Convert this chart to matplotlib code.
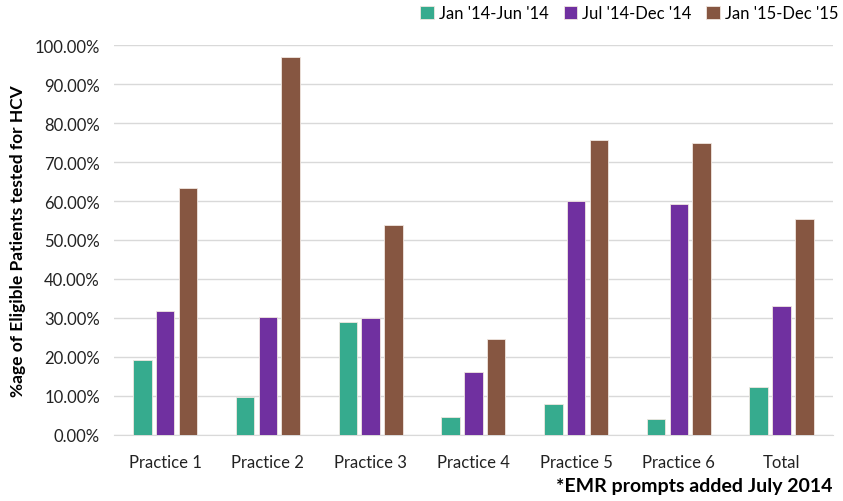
import numpy as np
import matplotlib.pyplot as plt
from matplotlib.ticker import PercentFormatter

plt.rcParams['font.family'] = ['Lato', 'DejaVu Sans']

practices = ["Practice 1", "Practice 2", "Practice 3", "Practice 4",
             "Practice 5", "Practice 6", "Total"]
period_labels = ["Jan '14-Jun '14", "Jul '14-Dec '14", "Jan '15-Dec '15"]
jan_jun_14 = [19.3, 9.6, 29.0, 4.5, 8.0, 4.0, 12.3]
jul_dec_14 = [31.7, 30.3, 30.0, 16.0, 60.0, 59.3, 33.0]
jan_dec_15 = [63.3, 97.0, 53.9, 24.5, 75.6, 74.8, 55.3]
colors = ["#36AB8E", "#7030A0", "#865641"]

fig = plt.figure(figsize=(8.43, 5.02), dpi=100)
ax = fig.add_axes([0.135, 0.132, 0.853, 0.776])

x = np.arange(len(practices))
step = 0.222
for i, (vals, lab, c) in enumerate(zip([jan_jun_14, jul_dec_14, jan_dec_15], period_labels, colors)):
    ax.bar(x + (i - 1) * step, vals, width=0.18, color=c, edgecolor="#f0e6e0",
           linewidth=0.6, label=lab, zorder=3)

ax.set_xlim(-0.5, len(practices) - 0.5)
ax.set_ylim(0, 100)
ax.set_yticks(np.arange(0, 101, 10))
ax.yaxis.set_major_formatter(PercentFormatter(decimals=2))
ax.set_xticks(x)
ax.set_xticklabels(practices)
ax.tick_params(length=0, labelsize=12, colors="#222222")
ax.tick_params(axis="x", pad=14)
ax.tick_params(axis="y", pad=10)
ax.grid(axis="y", color="#d9d9d9", linewidth=1, zorder=0)
for s in ["top", "right", "left"]:
    ax.spines[s].set_visible(False)
ax.spines["bottom"].set_color("#d9d9d9")

ax.set_ylabel("%age of Eligible Patients tested for HCV", fontsize=12.5,
              fontweight="bold", labelpad=6)

fig.legend(loc="upper right", bbox_to_anchor=(1.012, 1.018), ncol=3, frameon=False,
           fontsize=12, handlelength=0.8, handleheight=0.8, handletextpad=0.3,
           columnspacing=0.9)

fig.text(0.988, 0.03, "*EMR prompts added July 2014", ha="right", va="center",
         fontsize=14, fontweight="bold")

fig.savefig("out.png", dpi=100)
